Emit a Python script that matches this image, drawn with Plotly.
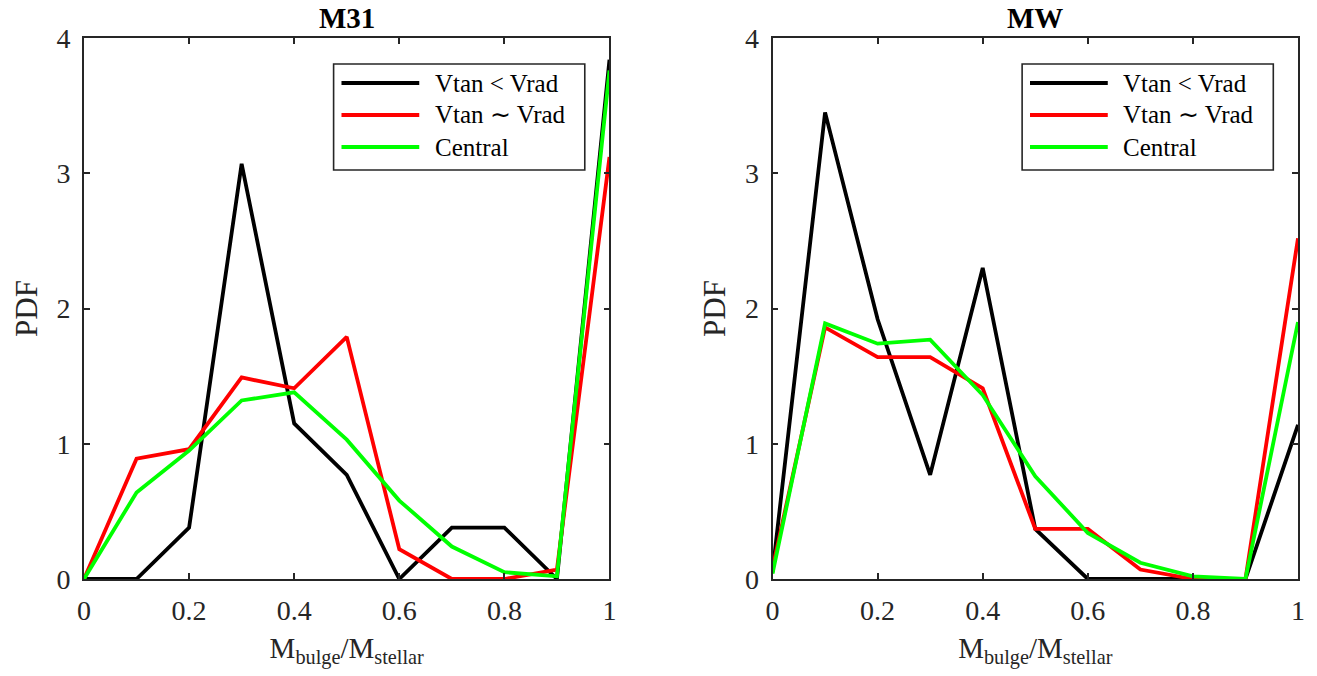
import plotly.graph_objects as go
from plotly.subplots import make_subplots

# bulge-to-stellar mass ratio bins
ratio = [0.0, 0.1, 0.2, 0.3, 0.4, 0.5, 0.6, 0.7, 0.8, 0.9, 1.0]

# M31 host PDFs
m31_tan_lt_rad = [0.0, 0.0, 0.38, 3.07, 1.15, 0.77, 0.0, 0.38, 0.38, 0.0, 3.84]
m31_tan_sim_rad = [0.0, 0.89, 0.96, 1.49, 1.41, 1.79, 0.22, 0.0, 0.0, 0.07, 3.12]
m31_central = [0.0, 0.64, 0.95, 1.32, 1.38, 1.03, 0.58, 0.24, 0.05, 0.02, 3.76]

# MW host PDFs
mw_tan_lt_rad = [0.05, 3.45, 1.92, 0.77, 2.30, 0.37, 0.0, 0.0, 0.0, 0.0, 1.14]
mw_tan_sim_rad = [0.08, 1.86, 1.64, 1.64, 1.41, 0.37, 0.37, 0.07, 0.0, 0.0, 2.52]
mw_central = [0.04, 1.89, 1.74, 1.77, 1.36, 0.76, 0.34, 0.12, 0.02, 0.0, 1.90]

series_names = ["Vtan &lt; Vrad", "Vtan ∼ Vrad", "Central"]
series_colors = ["#000000", "#ff0000", "#00ff00"]
panel_titles = ["<b>M31</b>", "<b>MW</b>"]
x_ticks = [0, 0.2, 0.4, 0.6, 0.8, 1.0]
x_tick_text = ["0", "0.2", "0.4", "0.6", "0.8", "1"]
y_ticks = [0, 1, 2, 3, 4]

FONT = '"Liberation Serif", "Times New Roman", serif'
AXIS_COLOR = "#262626"
LINE_W = 3.8

fig = make_subplots(rows=1, cols=2, horizontal_spacing=0.1343)

panels = [
    (m31_tan_lt_rad, m31_tan_sim_rad, m31_central),
    (mw_tan_lt_rad, mw_tan_sim_rad, mw_central),
]
for col, panel in enumerate(panels, start=1):
    for name, color, values in zip(series_names, series_colors, panel):
        fig.add_trace(
            go.Scatter(
                x=ratio, y=values, mode="lines", name=name,
                line=dict(color=color, width=LINE_W),
                showlegend=False,
            ),
            row=1, col=col,
        )

axis_common = dict(
    showgrid=False, zeroline=False, showline=True, linecolor=AXIS_COLOR,
    linewidth=1.6, mirror="ticks", ticks="inside", ticklen=6,
    tickwidth=1.6, tickcolor=AXIS_COLOR,
    tickfont=dict(family=FONT, size=28, color=AXIS_COLOR),
)
for col in (1, 2):
    fig.update_xaxes(
        range=[0, 1], tickvals=x_ticks, ticktext=x_tick_text,
        ticklabelstandoff=6,
        title=dict(text="M<sub>bulge</sub>/M<sub>stellar</sub>",
                   font=dict(family=FONT, size=29, color=AXIS_COLOR),
                   standoff=12),
        row=1, col=col, **axis_common,
    )
    fig.update_yaxes(
        range=[0, 4], tickvals=y_ticks,
        ticklabelstandoff=6,
        title=dict(text="PDF", font=dict(family=FONT, size=31, color=AXIS_COLOR),
                   standoff=10),
        row=1, col=col, **axis_common,
    )

fig.update_layout(
    width=1317, height=676,
    margin=dict(l=84, r=19, t=38, b=97),
    paper_bgcolor="white", plot_bgcolor="white",
    font=dict(family=FONT, color="#000000"),
    showlegend=False,
)

# Panel titles
for col, title in enumerate(panel_titles, start=1):
    suffix = "" if col == 1 else str(col)
    fig.add_annotation(
        text=title, xref=f"x{suffix} domain", yref=f"y{suffix} domain",
        x=0.5, y=1.0, yshift=2,
        xanchor="center", yanchor="bottom", showarrow=False,
        font=dict(family=FONT, size=29, color="#000000"),
    )

# Boxed legend in the upper right of each panel
box_x0, box_x1, box_y0, box_y1 = 0.475, 0.953, 0.756, 0.952
sample_x0, sample_x1, text_x = 0.49, 0.638, 0.664
row_y = [0.9168, 0.8577, 0.7985]
for col in (1, 2):
    suffix = "" if col == 1 else str(col)
    xr, yr = f"x{suffix} domain", f"y{suffix} domain"
    fig.add_shape(
        type="rect", xref=xr, yref=yr,
        x0=box_x0, x1=box_x1, y0=box_y0, y1=box_y1,
        line=dict(color=AXIS_COLOR, width=1.6), fillcolor="white", layer="above",
    )
    for name, color, ry in zip(series_names, series_colors, row_y):
        fig.add_shape(
            type="line", xref=xr, yref=yr,
            x0=sample_x0, x1=sample_x1, y0=ry, y1=ry,
            line=dict(color=color, width=LINE_W), layer="above",
        )
        fig.add_annotation(
            text=name, xref=xr, yref=yr, x=text_x, y=ry,
            xanchor="left", yanchor="middle", showarrow=False,
            font=dict(family=FONT, size=25, color="#000000"),
        )

fig.write_html("out.html")
